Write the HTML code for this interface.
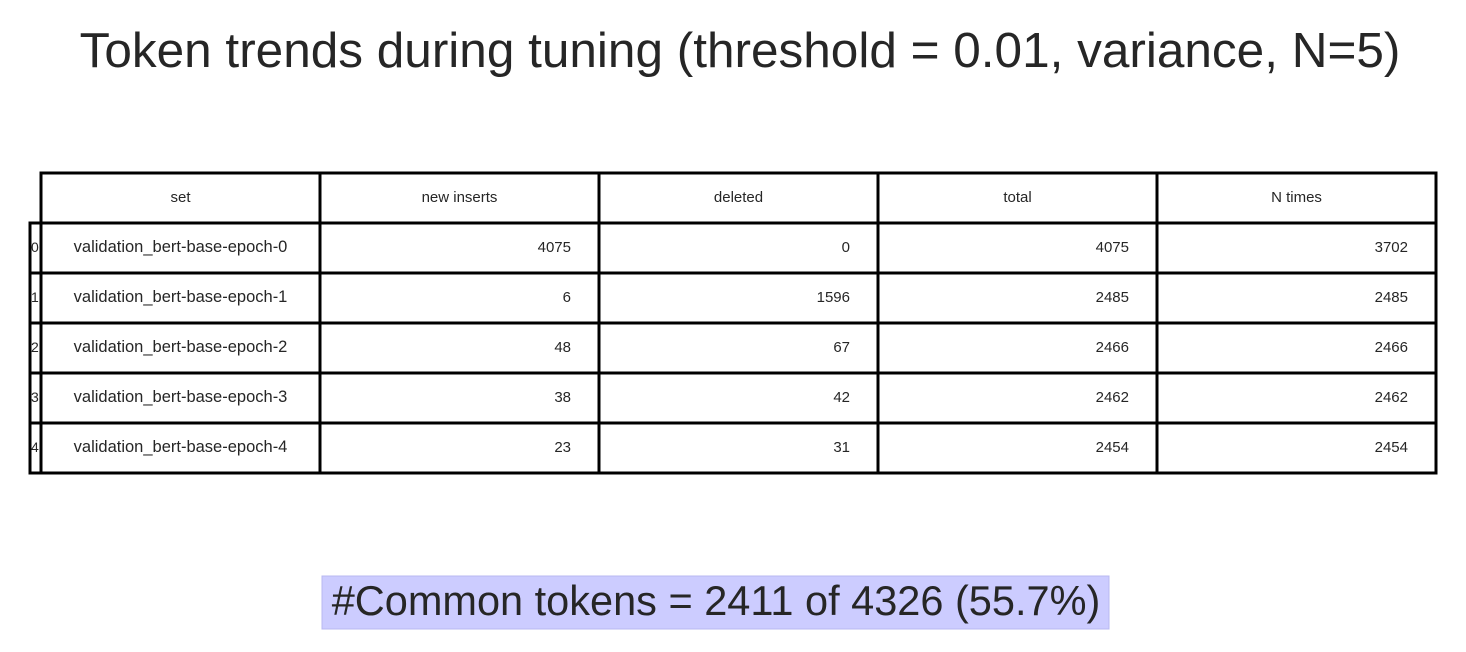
<!DOCTYPE html>
<html><head><meta charset="utf-8"><style>
html,body{margin:0;padding:0;background:#fff;}
svg{display:block;font-family:"Liberation Sans",Arial,sans-serif;}
</style></head><body>
<svg id="s" width="1466" height="652" viewBox="0 0 1466 652">
<text x="740" y="67" text-anchor="middle" font-size="49.5" fill="#262626">Token trends during tuning (threshold = 0.01, variance, N=5)</text>
<g id="tbl"></g>
<rect x="322" y="576" width="787" height="53" fill="#ccccff" stroke="#b8b8f0" stroke-width="1"/>
<text x="716" y="615" text-anchor="middle" font-size="41.5" fill="#262626">#Common tokens = 2411 of 4326 (55.7%)</text>
</svg>
<script>
const headers=["set","new inserts","deleted","total","N times"];
const setNames=["validation_bert-base-epoch-0","validation_bert-base-epoch-1","validation_bert-base-epoch-2","validation_bert-base-epoch-3","validation_bert-base-epoch-4"];
const newInserts=[4075,6,48,38,23];
const deleted=[0,1596,67,42,31];
const total=[4075,2485,2466,2462,2454];
const nTimes=[3702,2485,2466,2462,2454];
const g=document.getElementById('tbl');
const NS="http://www.w3.org/2000/svg";
const colX=[41,320,599,878,1157,1436];
const top0=173,rowH=50;
function el(t,a){const e=document.createElementNS(NS,t);for(const k in a)e.setAttribute(k,a[k]);g.appendChild(e);return e;}
function txt(x,y,s,anchor,name){const t=el('text',{x:x,y:y,'font-size':14,fill:'#262626','text-anchor':anchor});t.textContent=s;

return t;}
const nRows=setNames.length;
for(let r=0;r<nRows;r++){
 const y=top0+rowH*(r+1);
 const c=el('rect',{x:30,y:y,width:11,height:rowH,fill:'#fff',stroke:'#000','stroke-width':3});
 
 
 txt(31,y+29,String(r),'start','row-index-label');
}
for(let r=0;r<=nRows;r++){
 const y=top0+rowH*r;
 for(let c=0;c<5;c++){
  const rc=el('rect',{x:colX[c],y:y,width:colX[c+1]-colX[c],height:rowH,fill:'#fff',stroke:'#000','stroke-width':3});
  
  
 }
}
for(let c=0;c<5;c++){const t=txt((colX[c]+colX[c+1])/2,top0+29,headers[c],'middle','column-header');t.setAttribute('font-size',15);}
const cols=[newInserts,deleted,total,nTimes];
for(let r=0;r<nRows;r++){
 const y=top0+rowH*(r+1)+29;
 const t=txt((colX[0]+colX[1])/2,y,setNames[r],'middle','set-name');t.setAttribute('font-size',16.5);
 for(let c=0;c<4;c++){const v=txt(colX[c+2]-28,y,String(cols[c][r]),'end','cell-value');v.setAttribute('font-size',15);}
}
</script>
</body></html>
